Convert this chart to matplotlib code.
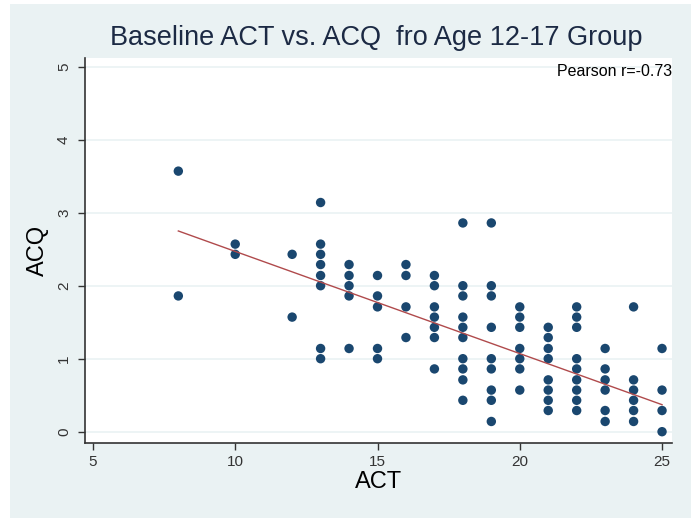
import matplotlib
matplotlib.use("Agg")
import matplotlib.pyplot as plt

# ACT score for each patient and their ACQ score
act = [8, 8,
       10, 10,
       12, 12,
       13, 13, 13, 13, 13, 13, 13, 13,
       14, 14, 14, 14, 14,
       15, 15, 15, 15, 15,
       16, 16, 16, 16,
       17, 17, 17, 17, 17, 17, 17,
       18, 18, 18, 18, 18, 18, 18, 18, 18, 18,
       19, 19, 19, 19, 19, 19, 19, 19, 19,
       20, 20, 20, 20, 20, 20, 20,
       21, 21, 21, 21, 21, 21, 21, 21,
       22, 22, 22, 22, 22, 22, 22, 22, 22,
       23, 23, 23, 23, 23, 23,
       24, 24, 24, 24, 24, 24,
       25, 25, 25, 25]
acq = [3.57, 1.86,
       2.57, 2.43,
       2.43, 1.57,
       3.14, 2.57, 2.43, 2.29, 2.14, 2.0, 1.14, 1.0,
       2.29, 2.14, 2.0, 1.86, 1.14,
       2.14, 1.86, 1.71, 1.14, 1.0,
       2.29, 2.14, 1.71, 1.29,
       2.14, 2.0, 1.71, 1.57, 1.43, 1.29, 0.86,
       2.86, 2.0, 1.86, 1.57, 1.43, 1.29, 1.0, 0.86, 0.71, 0.43,
       2.86, 2.0, 1.86, 1.43, 1.0, 0.86, 0.57, 0.43, 0.14,
       1.71, 1.57, 1.43, 1.14, 1.0, 0.86, 0.57,
       1.43, 1.29, 1.14, 1.0, 0.71, 0.57, 0.43, 0.29,
       1.71, 1.57, 1.43, 1.0, 0.86, 0.71, 0.57, 0.43, 0.29,
       1.14, 0.86, 0.71, 0.57, 0.29, 0.14,
       1.71, 0.71, 0.57, 0.43, 0.29, 0.14,
       1.14, 0.57, 0.29, 0.0]

# fitted line as drawn in the chart (the plot holds more patients than are visible)
fit_act = [8, 25]
fit_acq = [2.75, 0.37]

x_ticks = [5, 10, 15, 20, 25]
y_ticks = [0, 1, 2, 3, 4, 5]
title = "Baseline ACT vs. ACQ  fro Age 12-17 Group"
pearson = "Pearson r=-0.73"

BG = "#eaf2f3"
NAVY = "#1a476f"
MAROON = "#b04a4c"

plt.rcParams["font.family"] = ["Liberation Sans", "DejaVu Sans"]

fig = plt.figure(figsize=(6.91, 5.18), dpi=100)
fig.patch.set_facecolor("white")
fig.patches.append(plt.Rectangle((10 / 691, 0), 1, 1 - 4 / 518,
                                 transform=fig.transFigure, facecolor=BG,
                                 edgecolor="none", zorder=-5))
ax = fig.add_axes([85 / 691, 1 - 443 / 518, (672 - 85) / 691, (443 - 58) / 518])
ax.set_facecolor("white")

ax.scatter(act, acq, s=46, color=NAVY, marker="o", edgecolors="none", zorder=3)
ax.plot(fit_act, fit_acq, color=MAROON, lw=1.0, zorder=4)

ax.set_xlim(4.72, 25.35)
ax.set_ylim(-0.155, 5.12)
ax.set_xticks(x_ticks)
ax.set_yticks(y_ticks)
ax.set_yticklabels([str(v) for v in y_ticks], rotation=90, va="center")
ax.tick_params(axis="both", labelsize=11, colors="#333333", length=5, width=1)
ax.tick_params(axis="x", pad=4)
ax.tick_params(axis="y", pad=5)
ax.grid(axis="y", color=BG, lw=1.2)
ax.set_axisbelow(True)

for side in ("top", "right"):
    ax.spines[side].set_visible(False)
for side in ("left", "bottom"):
    ax.spines[side].set_color("#333333")
    ax.spines[side].set_linewidth(1.2)

ax.set_xlabel("ACT", fontsize=17, labelpad=1)
ax.set_ylabel("ACQ", fontsize=17, labelpad=6)
ax.text(1.0, 0.985, pearson, transform=ax.transAxes, ha="right", va="top", fontsize=11.5)
fig.text(376 / 691, 1 - 38 / 518, title, ha="center", va="center", fontsize=19.5, color="#1c2a44")

fig.savefig("out.png", dpi=100, facecolor=fig.get_facecolor())
